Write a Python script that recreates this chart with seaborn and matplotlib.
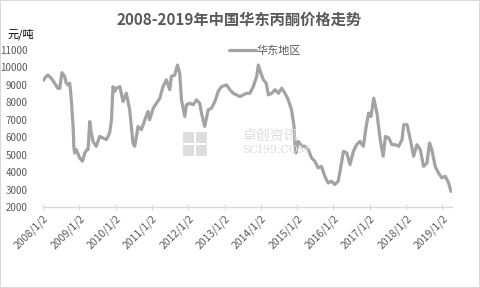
import matplotlib
matplotlib.use("Agg")
import matplotlib.pyplot as plt
from matplotlib.patches import Rectangle
import pandas as pd
import seaborn as sns

dates = [
    "2008-01-02", "2008-02-03", "2008-02-20", "2008-03-25", "2008-04-28", "2008-06-01",
    "2008-06-18", "2008-07-10", "2008-08-07", "2008-08-23", "2008-09-10", "2008-09-27",
    "2008-10-13", "2008-10-31", "2008-11-07", "2008-11-15", "2008-12-02", "2009-01-05",
    "2009-02-02", "2009-02-25", "2009-03-20", "2009-03-30", "2009-04-16", "2009-05-02",
    "2009-05-19", "2009-06-21", "2009-07-25", "2009-08-28", "2009-09-30", "2009-11-02",
    "2009-11-21", "2009-12-06", "2009-12-24", "2010-01-08", "2010-02-13", "2010-03-17",
    "2010-04-19", "2010-05-23", "2010-06-09", "2010-06-25", "2010-07-12", "2010-07-30",
    "2010-08-15", "2010-09-17", "2010-10-22", "2010-11-24", "2010-12-10", "2011-01-15",
    "2011-02-17", "2011-03-22", "2011-04-23", "2011-05-27", "2011-06-30", "2011-07-16",
    "2011-08-19", "2011-09-16", "2011-10-08", "2011-10-26", "2011-11-28", "2011-12-15",
    "2012-01-19", "2012-02-21", "2012-03-25", "2012-04-27", "2012-05-14", "2012-06-16",
    "2012-07-20", "2012-08-23", "2012-09-26", "2012-10-29", "2012-12-01", "2013-01-22",
    "2013-02-24", "2013-03-29", "2013-06-06", "2013-07-09", "2013-08-11", "2013-09-13",
    "2013-10-17", "2013-11-20", "2013-12-07", "2014-01-02", "2014-01-27", "2014-02-24",
    "2014-03-18", "2014-04-21", "2014-05-24", "2014-06-27", "2014-07-30", "2014-09-01",
    "2014-10-04", "2014-11-06", "2014-12-01", "2014-12-10", "2014-12-20", "2015-01-13",
    "2015-02-16", "2015-03-21", "2015-04-23", "2015-05-27", "2015-06-29", "2015-08-01",
    "2015-09-03", "2015-10-07", "2015-11-09", "2015-12-13", "2016-01-15", "2016-02-18",
    "2016-03-08", "2016-04-11", "2016-05-14", "2016-06-16", "2016-07-20", "2016-08-22",
    "2016-09-24", "2016-10-28", "2016-11-26", "2016-12-20", "2017-01-13", "2017-02-10",
    "2017-03-14", "2017-04-16", "2017-05-15", "2017-06-08", "2017-07-11", "2017-08-13",
    "2017-09-16", "2017-10-19", "2017-11-21", "2017-12-09", "2018-01-11", "2018-02-13",
    "2018-03-18", "2018-04-20", "2018-05-24", "2018-06-26", "2018-07-30", "2018-08-25",
    "2018-09-17", "2018-10-21", "2018-11-23", "2018-12-27", "2019-01-30", "2019-03-05",
    "2019-03-28",
]
prices = [
    9250, 9480, 9570, 9380, 9100, 8800,
    8800, 9700, 9480, 9100, 9000, 9100,
    8140, 6600, 5480, 5100, 5290, 4810,
    4620, 5100, 5290, 5290, 6900, 6240,
    5760, 5480, 6050, 5950, 5860, 6240,
    7000, 8900, 8620, 8810, 8900, 8050,
    8520, 7570, 6620, 5670, 5480, 6050,
    6620, 6430, 7000, 7480, 7000, 7670,
    7950, 8240, 8900, 9290, 8720, 9480,
    9570, 10140, 9670, 8140, 7190, 7860,
    7950, 7860, 8140, 7950, 7380, 6620,
    7570, 7670, 8050, 8620, 8900, 9000,
    8720, 8520, 8330, 8430, 8520, 8520,
    8900, 9480, 10140, 9670, 9290, 9100,
    8430, 8520, 8720, 8520, 8810, 8520,
    8140, 7570, 6620, 5670, 5100, 5760,
    5480, 5480, 5290, 4810, 4620, 4240,
    4330, 3760, 3380, 3480, 3290, 3480,
    4050, 5190, 5100, 4430, 5190, 5570,
    5760, 5480, 6620, 7380, 7190, 8240,
    7380, 5860, 4910, 6050, 5950, 5570,
    5570, 5480, 5860, 6720, 6720, 5860,
    4910, 5570, 5290, 4330, 4520, 5670,
    5290, 4330, 3950, 3670, 3760, 3380,
    2900,
]
years = list(range(2008, 2020))
x_tick_labels = [f"{y}/1/2" for y in years]
y_ticks = [2000, 3000, 4000, 5000, 6000, 7000, 8000, 9000, 10000, 11000]
series_name = "华东地区"
title = "2008-2019年中国华东丙酮价格走势"
unit = "元/吨"

df = pd.DataFrame({"date": pd.to_datetime(dates), "price": prices})

sns.set_theme(style="white")
plt.rcParams["font.family"] = ["Noto Sans CJK SC", "DejaVu Sans"]

txt = "#595959"
line_c = "#A3A3A3"
fig = plt.figure(figsize=(4.8, 2.88), dpi=100)
fig.patch.set_facecolor("white")
fig.patch.set_edgecolor("#D9D9D9")
fig.patch.set_linewidth(1.2)
ax = fig.add_axes([43 / 480, 1 - 207 / 288, (452 - 43) / 480, (207 - 50) / 288])

sns.lineplot(data=df, x="date", y="price", ax=ax, color=line_c, linewidth=2.3,
             label=series_name, legend=False)

ax.set_ylim(2000, 11000)
ax.set_yticks(y_ticks)
ax.set_yticklabels([str(v) for v in y_ticks], fontsize=7, color=txt)
ax.set_xlim(pd.Timestamp("2008-01-02"), pd.Timestamp("2019-04-08"))
xt = [pd.Timestamp(f"{y}-01-02") for y in years]
ax.set_xticks(xt)
ax.set_xticklabels(x_tick_labels, rotation=45, ha="right", rotation_mode="anchor",
                   fontsize=7.5, color=txt)
ax.set_xlabel("")
ax.set_ylabel("")
for s in ["top", "right", "left"]:
    ax.spines[s].set_visible(False)
ax.spines["bottom"].set_color("#D9D9D9")
ax.spines["bottom"].set_linewidth(1)
ax.tick_params(axis="x", which="both", bottom=True, direction="inout", length=5,
               width=0.8, color="#D9D9D9", pad=2)
ax.tick_params(axis="y", left=False, pad=5)
ax.grid(False)

fig.text(239 / 480, 1 - 20 / 288, title, ha="center", va="center", fontsize=11,
         fontweight="bold", color=txt)
fig.text(7 / 480, 1 - 34 / 288, unit, ha="left", va="center", fontsize=8, color="black")

leg = ax.legend(loc="center", bbox_to_anchor=(265 / 480, 1 - 51 / 288),
                bbox_transform=fig.transFigure, frameon=False, fontsize=8,
                handlelength=2.4, handletextpad=0.1, labelcolor=txt)

# faint watermark
wm = "#DDDDDD"
for (x0, y0) in [(183, 132), (196, 132), (183, 145), (196, 145)]:
    fig.patches.append(Rectangle((x0 / 480, 1 - (y0 + 11) / 288), 11 / 480, 11 / 288,
                                 transform=fig.transFigure, facecolor=wm, edgecolor="none",
                                 zorder=0))
fig.text(242 / 480, 1 - 136 / 288, "卓创资讯", ha="left", va="center", fontsize=10,
         color=wm, zorder=0)
fig.text(242 / 480, 1 - 150 / 288, "SCI99.COM", ha="left", va="center", fontsize=8,
         color=wm, family="DejaVu Serif", zorder=0)

fig.savefig("out.png", dpi=100, facecolor=fig.get_facecolor(), edgecolor=fig.get_edgecolor())
